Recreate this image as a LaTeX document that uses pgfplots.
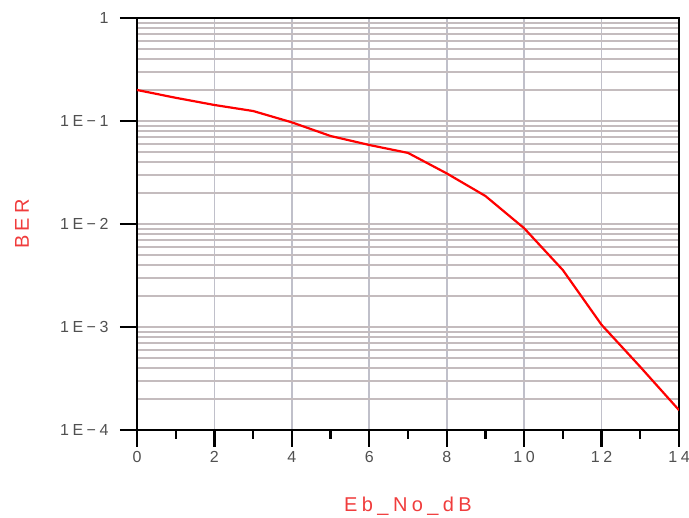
\documentclass[border=0pt]{standalone}
\usepackage{pgfplots}
\pgfplotsset{compat=1.18}
\usepackage{fontspec}
\setmainfont{Liberation Sans}
\newfontfamily\spaced[LetterSpace=22]{Liberation Sans}
\definecolor{hgrid}{RGB}{196,188,190}
\definecolor{vgrid}{RGB}{192,192,202}
\definecolor{lab}{RGB}{240,60,60}
\definecolor{tl}{RGB}{80,80,80}
\begin{document}
\begin{tikzpicture}
\useasboundingbox (-137pt,-88pt) rectangle (552pt,430pt);
\begin{axis}[
  scale only axis, width=542pt, height=412pt,
  ymode=log, xmin=0, xmax=14, ymin=1e-4, ymax=1,
  xtick={0,2,...,14},
  extra x ticks={1,3,...,13}, extra x tick labels={},
  extra x tick style={grid=none, major tick length=9pt},
  ytick={1e-4,1e-3,1e-2,1e-1,1},
  yticklabels={1E−4,1E−3,1E−2,1E−1,1},
  minor tick length=0pt, major tick length=17pt,
  tick align=outside, xtick pos=bottom, ytick pos=left,
  tick style={black, line width=2.4pt},
  axis line style={black, line width=2.4pt},
  xmajorgrids, ymajorgrids, yminorgrids,
  x grid style={vgrid, line width=1.8pt},
  y grid style={hgrid, line width=1.8pt},
  minor y grid style={hgrid, line width=1.8pt},
  /pgf/number format/assume math mode=true,
  ticklabel style={font=\spaced\fontsize{16}{18}\selectfont, text=tl},
  xticklabel style={yshift=-1pt},
  yticklabel style={xshift=-8pt},
  xlabel={Eb\_No\_dB}, ylabel={BER},
  label style={font=\spaced\fontsize{20}{22}\selectfont, text=lab},
  xlabel style={at={(0.5,0)}, anchor=center, yshift=-76pt},
  ylabel style={at={(0,0.5)}, anchor=center, yshift=115pt},
]
\addplot[red, line width=2.2pt] coordinates {
(0,0.2) (1,0.168) (2,0.143) (3,0.125) (4,0.097) (5,0.0715) (6,0.0585) (7,0.049)
(8,0.031) (9,0.0187) (10,0.0091) (11,0.00357) (12,0.00105) (13,0.00041) (14,0.000156)};
\end{axis}
\end{tikzpicture}
\end{document}
